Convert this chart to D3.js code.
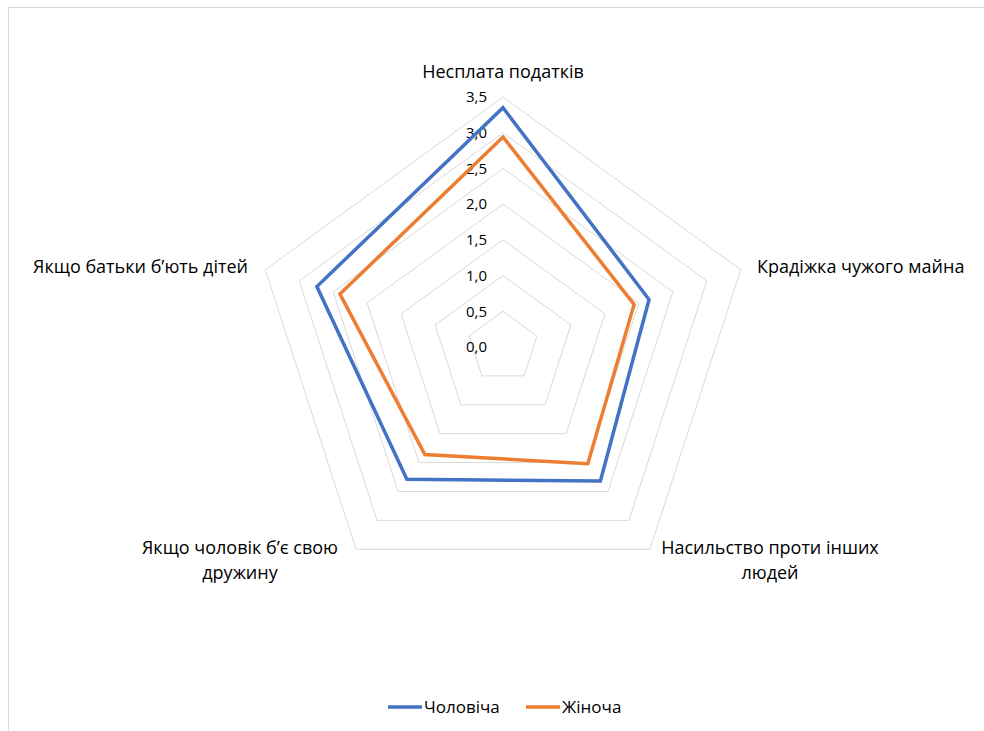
<!doctype html>
<html lang="uk">
<head>
<meta charset="utf-8">
<title>Radar</title>
<script src="https://d3js.org/d3.v7.min.js"></script>
<style>
  body { margin: 0; background: #fff; }
  svg text { font-family: "Open Sans", Lato, sans-serif; fill: #000; }
</style>
</head>
<body>
<div id="chart"></div>
<script>
const categories = [
  ['Несплата податків'],
  ['Крадіжка чужого майна'],
  ['Насильство проти інших', 'людей'],
  ['Якщо чоловік б’є свою', 'дружину'],
  ['Якщо батьки б’ють дітей']
]
const seriesNames = ['Чоловіча', 'Жіноча']
const male = [3.35, 2.15, 2.32, 2.29, 2.74]
const female = [2.94, 1.93, 2.02, 1.86, 2.40]
const ticks = [0, 0.5, 1, 1.5, 2, 2.5, 3, 3.5]
const colors = ['#4472c4', '#ed7d31']

const width = 984, height = 731
const cx = 503, cy = 347, R = 250

const svg = d3.select('#chart').append('svg')
  .attr('width', width).attr('height', height)

svg.append('rect')
  .attr('x', 8.5).attr('y', 7.5).attr('width', 1000).attr('height', 1000)
  .attr('fill', 'none').attr('stroke', '#d9d9d9')

const r = d3.scaleLinear().domain([0, 3.5]).range([0, R])
const angle = i => i * 2 * Math.PI / categories.length

const g = svg.append('g').attr('transform', `translate(${cx},${cy})`)

const radial = d3.lineRadial().angle((d, i) => angle(i)).curve(d3.curveLinearClosed)

// grid pentagons
g.append('g').selectAll('path')
  .data(ticks.slice(1))
  .enter().append('path')
  .attr('d', t => radial.radius(r(t))(categories))
  .attr('fill', 'none').attr('stroke', '#d9d9d9').attr('stroke-width', 1)

// tick labels
g.append('g').selectAll('text')
  .data(ticks)
  .enter().append('text')
  .attr('x', -16).attr('y', t => -r(t))
  .attr('dy', '0.35em')
  .attr('text-anchor', 'end')
  .style('font-size', '15px')
  .text(t => d3.format('.1f')(t).replace('.', ','))

// series
const series = [male, female]
g.append('g').selectAll('path')
  .data(series)
  .enter().append('path')
  .attr('d', s => d3.lineRadial().angle((d, i) => angle(i)).radius(d => r(d)).curve(d3.curveLinearClosed)(s))
  .attr('fill', 'none')
  .attr('stroke', (s, i) => colors[i])
  .attr('stroke-width', 3.5)
  .attr('stroke-linejoin', 'miter')

// category labels
const labelPos = [
  {x: 0, y: -269, anchor: 'middle'},
  {x: 254, y: -74, anchor: 'start'},
  {x: 267, y: 207, anchor: 'middle'},
  {x: -263, y: 207, anchor: 'middle'},
  {x: -255, y: -74, anchor: 'end'}
]
categories.forEach((lines, i) => {
  const p = labelPos[i]
  const t = g.append('text')
    .attr('text-anchor', p.anchor)
    .style('font-size', '18px')
  lines.forEach((ln, k) => {
    t.append('tspan').attr('x', p.x).attr('y', p.y + k * 25).text(ln)
  })
})

// legend
const legend = svg.append('g')
const legendX = [388, 526]
seriesNames.forEach((name, i) => {
  legend.append('line')
    .attr('x1', legendX[i]).attr('x2', legendX[i] + 34)
    .attr('y1', 707).attr('y2', 707)
    .attr('stroke', colors[i]).attr('stroke-width', 3.5)
  legend.append('text')
    .attr('x', legendX[i] + 36).attr('y', 707).attr('dy', '0.35em')
    .style('font-size', '17px')
    .text(name)
})
</script>
</body>
</html>
